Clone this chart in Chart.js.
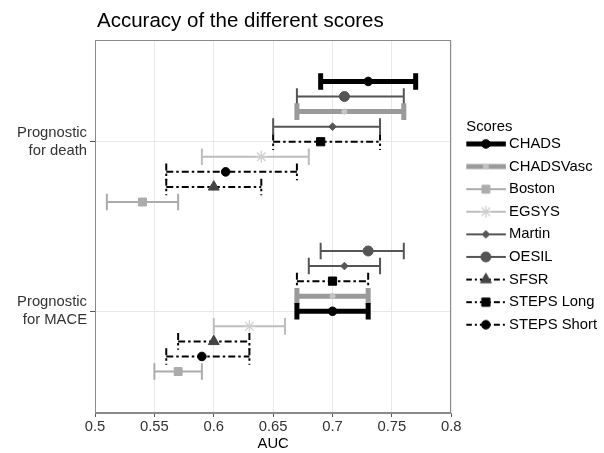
<!DOCTYPE html>
<html>
<head>
<meta charset="utf-8">
<script src="https://cdn.jsdelivr.net/npm/chart.js@4.4.1/dist/chart.umd.min.js"></script>
<style>
  html, body { margin: 0; padding: 0; background: #ffffff; }
  canvas { display: block; }
</style>
</head>
<body>
<canvas id="chart" width="604" height="453"></canvas>
<script>
// ---- data -------------------------------------------------------------
const scores = ['CHADS', 'CHADSVasc', 'Boston', 'EGSYS', 'Martin', 'OESIL', 'SFSR', 'STEPS Long', 'STEPS Short'];
const outcomes = [['Prognostic', 'for death'], ['Prognostic', 'for MACE']];

// AUC and 95% CI per score (same order as `scores`)
const deathAuc  = [0.73, 0.71, 0.54, 0.64, 0.70, 0.71, 0.60, 0.69, 0.61];
const deathLow  = [0.69, 0.67, 0.51, 0.59, 0.65, 0.67, 0.56, 0.65, 0.56];
const deathHigh = [0.77, 0.76, 0.57, 0.68, 0.74, 0.76, 0.64, 0.74, 0.67];

const maceAuc  = [0.70, 0.70, 0.57, 0.63, 0.71, 0.73, 0.60, 0.70, 0.59];
const maceLow  = [0.67, 0.67, 0.55, 0.60, 0.68, 0.69, 0.57, 0.67, 0.56];
const maceHigh = [0.73, 0.73, 0.59, 0.66, 0.74, 0.76, 0.63, 0.73, 0.63];

// row order inside each outcome, top to bottom
const deathOrder = ['CHADS', 'OESIL', 'CHADSVasc', 'Martin', 'STEPS Long', 'EGSYS', 'STEPS Short', 'SFSR', 'Boston'];
const maceOrder  = ['OESIL', 'Martin', 'STEPS Long', 'CHADSVasc', 'CHADS', 'EGSYS', 'SFSR', 'STEPS Short', 'Boston'];

const xTicks = [0.5, 0.55, 0.6, 0.65, 0.7, 0.75, 0.8];
const xTickLabels = ['0.5', '0.55', '0.6', '0.65', '0.7', '0.75', '0.8'];

// ---- appearance -------------------------------------------------------
const FONT = '"Liberation Sans", Arial, Helvetica, sans-serif';
const DOTDASH = [7, 3, 2.5, 3];
const look = {
  'CHADS':       { line: '#000000', width: 5,   dash: [],      marker: 'circle',   r: 4.3, fill: '#000000', bw: 1 },
  'CHADSVasc':   { line: '#9a9a9a', width: 5,   dash: [],      marker: 'circle',   r: 2.6, fill: '#c4c4c4', bw: 1 },
  'Boston':      { line: '#acacac', width: 2,   dash: [],      marker: 'rect',     r: 5.6, fill: '#acacac', bw: 1 },
  'EGSYS':       { line: '#bdbdbd', width: 2,   dash: [],      marker: 'star',     r: 6,   fill: '#cfcfcf', bw: 1.3 },
  'Martin':      { line: '#555555', width: 2,   dash: [],      marker: 'rectRot',  r: 3.8, fill: '#555555', bw: 1 },
  'OESIL':       { line: '#555555', width: 2,   dash: [],      marker: 'circle',   r: 5,   fill: '#555555', bw: 1 },
  'SFSR':        { line: '#000000', width: 2,   dash: DOTDASH, marker: 'triangle', r: 6.3, fill: '#444444', bw: 1 },
  'STEPS Long':  { line: '#000000', width: 2,   dash: DOTDASH, marker: 'rect',     r: 5.8, fill: '#000000', bw: 1 },
  'STEPS Short': { line: '#000000', width: 2,   dash: DOTDASH, marker: 'circle',   r: 4.3, fill: '#000000', bw: 1 }
};

const ROW = 0.8 / scores.length;   // dodge step between rows of one outcome
const CAP = 0.049;                 // half height of the CI end caps, in axis units
const GAP = { x: NaN, y: NaN };
const LEGEND_GAP = 15;             // space between panel and legend

const groups = [
  { order: deathOrder, auc: deathAuc, low: deathLow, high: deathHigh },
  { order: maceOrder,  auc: maceAuc,  low: maceLow,  high: maceHigh }
];

const markerSets = [];
const whiskerSets = [];
scores.forEach((name, i) => {
  const st = look[name];
  const pts = [];
  const seg = [];
  groups.forEach((g, gi) => {
    const y = gi + (g.order.indexOf(name) - (scores.length - 1) / 2) * ROW;
    const lo = g.low[i], hi = g.high[i];
    pts.push({ x: g.auc[i], y });
    seg.push({ x: lo, y: y - CAP }, { x: lo, y: y + CAP }, GAP,
             { x: lo, y },          { x: hi, y },          GAP,
             { x: hi, y: y - CAP }, { x: hi, y: y + CAP }, GAP);
  });
  markerSets.push({
    label: name,
    data: pts,
    showLine: false,
    pointStyle: st.marker,
    pointRadius: st.r,
    pointBackgroundColor: st.fill,
    pointBorderColor: st.fill,
    pointBorderWidth: st.bw
  });
  whiskerSets.push({
    label: name + ' CI',
    data: seg,
    showLine: true,
    spanGaps: false,
    fill: false,
    tension: 0,
    borderColor: st.line,
    borderWidth: st.width,
    borderDash: st.dash,
    borderCapStyle: 'butt',
    pointRadius: 0
  });
});

// small line + marker image used as legend key
function keyGlyph(name) {
  const st = look[name];
  const c = document.createElement('canvas');
  c.width = 44; c.height = 18;
  const ctx = c.getContext('2d');
  ctx.strokeStyle = st.line;
  ctx.lineWidth = st.width;
  ctx.setLineDash(st.dash.length ? [6, 3, 2, 3] : []);
  ctx.beginPath();
  ctx.moveTo(0, 9); ctx.lineTo(40, 9);
  ctx.stroke();
  ctx.setLineDash([]);
  ctx.fillStyle = st.fill;
  ctx.strokeStyle = st.fill;
  ctx.lineWidth = st.bw;
  if (Chart.helpers && Chart.helpers.drawPoint) {
    Chart.helpers.drawPoint(ctx, { pointStyle: st.marker, radius: st.r, rotation: 0, borderWidth: st.bw }, 20, 9);
  } else {
    ctx.beginPath(); ctx.arc(20, 9, st.r, 0, Math.PI * 2); ctx.fill();
  }
  return c;
}

const GRID = '#e8e8e8';
const FRAME = '#8a8a8a';
const TICKC = '#555555';

// chart title left aligned with the panel, panel frame, and a gap before the legend
const panelDecor = {
  id: 'panelDecor',
  afterLayout(chart) {
    const lg = chart.legend;
    if (lg) { lg.left += LEGEND_GAP; lg.right += LEGEND_GAP; }
  },
  afterDatasetsDraw(chart) {
    const { ctx, chartArea: a } = chart;
    ctx.save();
    ctx.strokeStyle = FRAME;
    ctx.lineWidth = 1;
    ctx.strokeRect(Math.round(a.left) + 0.5, Math.round(a.top) + 0.5,
                   Math.round(a.right - a.left) - 1, Math.round(a.bottom - a.top) - 1);
    ctx.restore();
  },
  afterDraw(chart) {
    const { ctx, chartArea } = chart;
    ctx.save();
    ctx.font = '20.5px ' + FONT;
    ctx.fillStyle = '#000000';
    ctx.textAlign = 'left';
    ctx.textBaseline = 'alphabetic';
    ctx.fillText('Accuracy of the different scores', chartArea.left + 2, 27);
    ctx.restore();
  }
};

new Chart(document.getElementById('chart'), {
  type: 'scatter',
  data: { datasets: [...markerSets, ...whiskerSets] },
  options: {
    responsive: false,
    animation: false,
    events: [],
    layout: { padding: { top: 40, left: 0, right: LEGEND_GAP - 3, bottom: 0 } },
    scales: {
      x: {
        type: 'linear',
        position: 'bottom',
        min: 0.5, max: 0.8,
        afterBuildTicks(s) { s.ticks = xTicks.map(v => ({ value: v })); },
        afterFit(s) { s.height = 40; },
        ticks: {
          callback: (v, i) => xTickLabels[i],
          color: '#333333',
          font: { family: FONT, size: 14.8 },
          padding: 1,
          maxRotation: 0
        },
        grid: { color: GRID, lineWidth: 1, tickColor: TICKC, tickLength: 4 },
        border: { color: FRAME, width: 1 },
        title: { display: true, text: 'AUC', color: '#000000', font: { family: FONT, size: 14.8 }, padding: { top: 0, bottom: 0 } }
      },
      y: {
        type: 'linear',
        position: 'left',
        reverse: true,
        min: -0.6, max: 1.6,
        afterBuildTicks(s) { s.ticks = outcomes.map((_, i) => ({ value: i })); },
        afterFit(s) { s.width = 95; },
        ticks: {
          callback: (v, i) => outcomes[i],
          color: '#333333',
          font: { family: FONT, size: 14.8 },
          padding: 3
        },
        grid: { color: GRID, lineWidth: 1, tickColor: TICKC, tickLength: 5 },
        border: { color: FRAME, width: 1 }
      }
    },
    plugins: {
      tooltip: { enabled: false },
      legend: {
        position: 'right',
        align: 'center',
        fullSize: false,
        onClick: null,
        title: {
          display: true,
          position: 'start',
          text: 'Scores',
          color: '#000000',
          font: { family: FONT, size: 14.8 },
          padding: { top: 6.5, bottom: -8.6 }
        },
        labels: {
          usePointStyle: true,
          pointStyleWidth: 27.5,
          padding: 7.8,
          color: '#000000',
          font: { family: FONT, size: 14.8 },
          generateLabels: () => scores.map((name, i) => ({
            text: name,
            pointStyle: keyGlyph(name),
            fontColor: '#000000',
            fillStyle: 'transparent',
            strokeStyle: 'transparent',
            lineWidth: 0,
            hidden: false,
            datasetIndex: i
          }))
        }
      }
    }
  },
  plugins: [panelDecor]
});
</script>
</body>
</html>
